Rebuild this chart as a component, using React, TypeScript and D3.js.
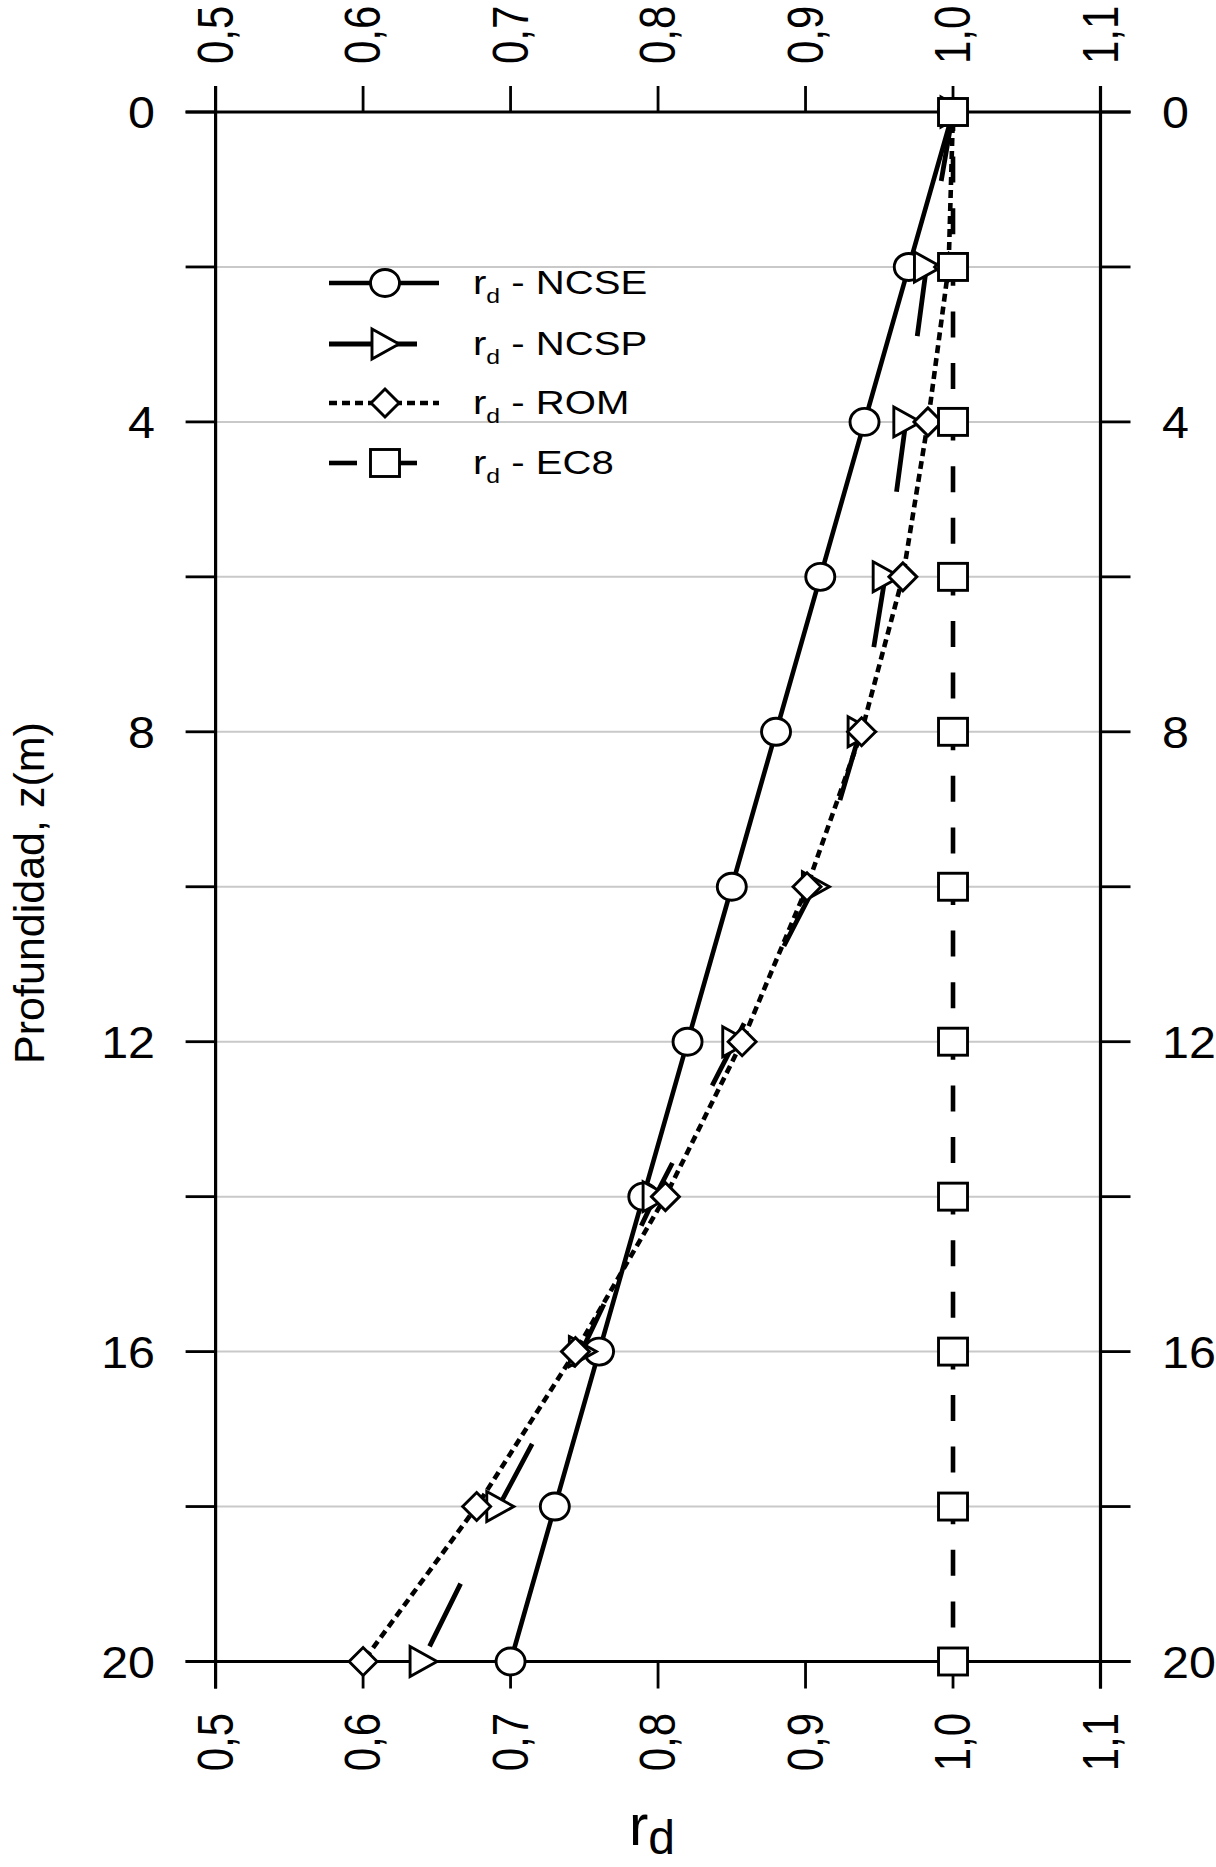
import React from "react";
import * as d3 from "d3";

const depths = [0, 2, 4, 6, 8, 10, 12, 14, 16, 18, 20];
const rdNCSE = [1.0, 0.97, 0.94, 0.91, 0.88, 0.85, 0.82, 0.79, 0.76, 0.73, 0.7];
const rdNCSP = [1.0, 0.982, 0.968, 0.954, 0.937, 0.906, 0.852, 0.798, 0.748, 0.692, 0.64];
const rdROM = [1.0, 0.997, 0.983, 0.966, 0.938, 0.901, 0.857, 0.805, 0.744, 0.677, 0.6];
const rdEC8 = [1.0, 1.0, 1.0, 1.0, 1.0, 1.0, 1.0, 1.0, 1.0, 1.0, 1.0];
const xTicks = [0.5, 0.6, 0.7, 0.8, 0.9, 1.0, 1.1];
const yTicks = [0, 2, 4, 6, 8, 10, 12, 14, 16, 18, 20];
const yLabelTicks = [0, 4, 8, 12, 16, 20];
const legendNames = ["NCSE", "NCSP", "ROM", "EC8"];

const FONT = "'Liberation Sans', Arial, Helvetica, sans-serif";

type Kind = "circle" | "triangle" | "diamond" | "square";

function Marker({ kind, cx, cy }: { kind: Kind; cx: number; cy: number }) {
  const sw = 2.9;
  if (kind === "circle")
    return <ellipse cx={cx} cy={cy} rx={14.5} ry={13.5} fill="#fff" stroke="#000" strokeWidth={sw} />;
  if (kind === "square")
    return <rect x={cx - 14.5} y={cy - 13.5} width={29} height={27} fill="#fff" stroke="#000" strokeWidth={sw} />;
  if (kind === "diamond")
    return (
      <path
        d={`M${cx - 14},${cy} L${cx},${cy - 14} L${cx + 14},${cy} L${cx},${cy + 14} Z`}
        fill="#fff"
        stroke="#000"
        strokeWidth={sw}
      />
    );
  return (
    <path
      d={`M${cx - 12},${cy - 15} L${cx + 15},${cy} L${cx - 12},${cy + 15} Z`}
      fill="#fff"
      stroke="#000"
      strokeWidth={sw}
    />
  );
}

export default function App() {
  const W = 1216;
  const H = 1867;
  const x = d3.scaleLinear().domain([0.5, 1.1]).range([215.6, 1100.5]);
  const y = d3.scaleLinear().domain([0, 20]).range([112, 1661.5]);
  const x0 = x(0.5);
  const x1 = x(1.1);
  const y0 = y(0);
  const y1 = y(20);
  const tick = 30;

  const series: { name: string; vals: number[]; kind: Kind; dash: string; offset: number; width: number }[] = [
    { name: "NCSE", vals: rdNCSE, kind: "circle", dash: "none", offset: 0, width: 4.6 },
    { name: "NCSP", vals: rdNCSP, kind: "triangle", dash: "70 87", offset: 0, width: 4.8 },
    { name: "ROM", vals: rdROM, kind: "diamond", dash: "8 5", offset: 0, width: 4.6 },
    { name: "EC8", vals: rdEC8, kind: "square", dash: "26 25.6", offset: 7, width: 4.6 },
  ];

  const line = d3
    .line<[number, number]>()
    .x((d) => x(d[0]))
    .y((d) => y(d[1]));

  const legendX = 385;
  const legendRows = [283, 344, 403, 463];

  return (
    <svg
      width={W}
      height={H}
      style={{ position: "absolute", left: 0, top: 0, background: "#fff" }}
      fontFamily={FONT}
    >
      <rect x={0} y={0} width={W} height={H} fill="#fff" />
      {/* gridlines */}
      {yTicks
        .filter((t) => t !== 0 && t !== 20)
        .map((t) => (
          <line key={"g" + t} x1={x0} x2={x1} y1={y(t)} y2={y(t)} stroke="#c9c9c9" strokeWidth={2} />
        ))}
      {/* left/right ticks */}
      {yTicks.map((t) => (
        <g key={"t" + t}>
          <line x1={x0 - tick} x2={x0} y1={y(t)} y2={y(t)} stroke="#000" strokeWidth={2.8} />
          <line x1={x1} x2={x1 + tick} y1={y(t)} y2={y(t)} stroke="#000" strokeWidth={2.8} />
        </g>
      ))}
      {/* top and bottom axis lines */}
      <line x1={x0 - tick} x2={x1 + tick} y1={y0} y2={y0} stroke="#000" strokeWidth={3.2} />
      <line x1={x0 - tick} x2={x1 + tick} y1={y1} y2={y1} stroke="#000" strokeWidth={3.2} />
      {/* left/right frame lines */}
      <line x1={x0} x2={x0} y1={y0 - 26} y2={y1 + 27} stroke="#000" strokeWidth={3.2} />
      <line x1={x1} x2={x1} y1={y0 - 26} y2={y1 + 27} stroke="#000" strokeWidth={3.2} />
      {/* top & bottom ticks */}
      {xTicks.map((t) => (
        <g key={"xt" + t}>
          <line x1={x(t)} x2={x(t)} y1={y0 - 26} y2={y0} stroke="#000" strokeWidth={2.8} />
          <line x1={x(t)} x2={x(t)} y1={y1} y2={y1 + 27} stroke="#000" strokeWidth={2.8} />
        </g>
      ))}
      {/* y tick labels */}
      {yLabelTicks.map((t) => (
        <g key={"yl" + t}>
          <g transform={`translate(155,${y(t)}) scale(1.1,1)`}>
            <text x={0} y={16} fontSize={44} textAnchor="end" fill="#000">
              {String(t)}
            </text>
          </g>
          <g transform={`translate(1162,${y(t)}) scale(1.1,1)`}>
            <text x={0} y={16} fontSize={44} textAnchor="start" fill="#000">
              {String(t)}
            </text>
          </g>
        </g>
      ))}
      {/* x tick labels (rotated) */}
      {xTicks.map((t) => {
        const lab = d3.format(".1f")(t).replace(".", ",");
        return (
          <g key={"xl" + t}>
            <g transform={`translate(${x(t)},64) scale(1.2,1) rotate(-90)`}>
              <text x={0} y={0} fontSize={42} textAnchor="start" dominantBaseline="central" fill="#000">
                {lab}
              </text>
            </g>
            <g transform={`translate(${x(t)},1713) scale(1.2,1) rotate(-90)`}>
              <text x={0} y={0} fontSize={42} textAnchor="end" dominantBaseline="central" fill="#000">
                {lab}
              </text>
            </g>
          </g>
        );
      })}
      {/* axis titles */}
      <g transform={`translate(44,893) rotate(-90)`}>
        <text x={0} y={0} fontSize={43} textAnchor="middle" fill="#000">
          Profundidad, z(m)
        </text>
      </g>
      <text x={652} y={1845} fontSize={58} textAnchor="middle" fill="#000">
        r
        <tspan fontSize={48} dy={9}>
          d
        </tspan>
      </text>
      {/* series lines */}
      {series.map((s) => {
        const pts: [number, number][] = s.vals.map((v, i) => [v, depths[i]]);
        return (
          <g key={s.name}>
            <path
              d={line(pts) || ""}
              fill="none"
              stroke="#000"
              strokeWidth={s.width}
              strokeDasharray={s.dash}
              strokeDashoffset={s.offset}
            />
          </g>
        );
      })}
      {/* markers */}
      {series.map((s) => (
        <g key={"m" + s.name}>
          {s.vals.map((v, i) => (
            <Marker key={i} kind={s.kind} cx={x(v)} cy={y(depths[i])} />
          ))}
        </g>
      ))}
      {/* legend */}
      <g>
        <line x1={329} x2={439} y1={legendRows[0]} y2={legendRows[0]} stroke="#000" strokeWidth={4.6} />
        <Marker kind="circle" cx={legendX} cy={legendRows[0]} />
        <line x1={329} x2={417} y1={legendRows[1]} y2={legendRows[1]} stroke="#000" strokeWidth={4.8} />
        <Marker kind="triangle" cx={legendX - 1} cy={legendRows[1]} />
        <line
          x1={329}
          x2={439}
          y1={legendRows[2]}
          y2={legendRows[2]}
          stroke="#000"
          strokeWidth={4.6}
          strokeDasharray="8 5"
        />
        <Marker kind="diamond" cx={legendX} cy={legendRows[2]} />
        <line x1={329} x2={357} y1={legendRows[3]} y2={legendRows[3]} stroke="#000" strokeWidth={4.6} />
        <line x1={399} x2={417} y1={legendRows[3]} y2={legendRows[3]} stroke="#000" strokeWidth={4.6} />
        <Marker kind="square" cx={legendX} cy={legendRows[3]} />
        {legendNames.map((n, i) => (
          <g key={"lt" + n} transform={`translate(473,${legendRows[i] + 11}) scale(1.18,1)`}>
            <text x={0} y={0} fontSize={34} fill="#000">
              r
              <tspan fontSize={21} dy={9}>
                d
              </tspan>
              <tspan dy={-9}>{" - " + n}</tspan>
            </text>
          </g>
        ))}
      </g>
    </svg>
  );
}
